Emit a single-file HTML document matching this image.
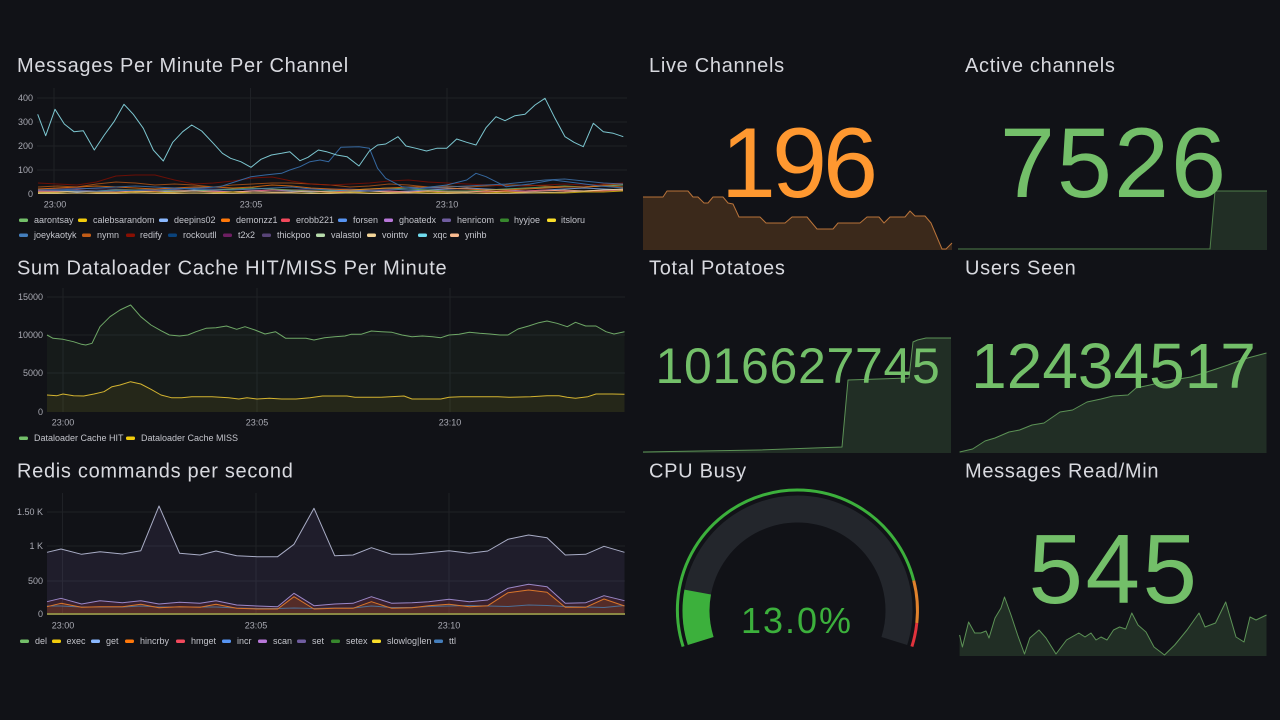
<!DOCTYPE html>
<html>
<head>
<meta charset="utf-8">
<style>
  html,body{margin:0;padding:0;background:#111217;}
  svg{display:block;}
  .t{font-family:"Liberation Sans",sans-serif;font-size:20px;fill:#d8d9df;letter-spacing:0.7px;}
  .ax{font-family:"Liberation Sans",sans-serif;font-size:9px;fill:#a9aab3;}
  .lg{font-family:"Liberation Sans",sans-serif;font-size:9px;fill:#c3c4cb;}
  .big{font-family:"Liberation Sans",sans-serif;}
  .g{stroke:#1f2126;stroke-width:1;fill:none;}
  .ln{fill:none;stroke-width:1;stroke-linejoin:round;}
</style>
</head>
<body>
<svg width="1280" height="720" viewBox="0 0 1280 720" xmlns="http://www.w3.org/2000/svg">
<rect x="0" y="0" width="1280" height="720" fill="#111217"/>

<!-- ============ PANEL 1: Messages Per Minute Per Channel ============ -->
<text class="t" x="17" y="72">Messages Per Minute Per Channel</text>
<g>
  <line class="g" x1="37" y1="98" x2="627" y2="98"/>
  <line class="g" x1="37" y1="122" x2="627" y2="122"/>
  <line class="g" x1="37" y1="146" x2="627" y2="146"/>
  <line class="g" x1="37" y1="170" x2="627" y2="170"/>
  <line class="g" x1="54" y1="88" x2="54" y2="194"/>
  <line class="g" x1="250.5" y1="88" x2="250.5" y2="194"/>
  <line class="g" x1="447" y1="88" x2="447" y2="194"/>
</g>
<g class="ax" text-anchor="end">
  <text x="33" y="101">400</text>
  <text x="33" y="125">300</text>
  <text x="33" y="149">200</text>
  <text x="33" y="173">100</text>
  <text x="33" y="197">0</text>
</g>
<g class="ax" text-anchor="middle">
  <text x="55" y="207.5">23:00</text>
  <text x="251" y="207.5">23:05</text>
  <text x="447" y="207.5">23:10</text>
</g>
<!-- low series -->
<g class="ln" stroke-opacity="0.75">
<polyline stroke="#584477" points="38,189 57.5,189 77,188 96.5,189 116,189 135.5,190 155,189 174.5,189 194,188 213.5,189 233,189 252.5,190 272,190 291.5,190 311,189 330.5,189 350,189 369.5,190 389,189 408.5,189 428,188 447.5,189 467,189 486.5,190 506,189 525.5,189 545,188 564.5,187 584,187 603.5,186 623,185"/>
<polyline stroke="#8AB8FF" points="38,191 57.5,191 77,192 96.5,191 116,190 135.5,191 155,192 174.5,191 194,190 213.5,191 233,192 252.5,191 272,190 291.5,191 311,192 330.5,191 350,190 369.5,191 389,192 408.5,191 428,190 447.5,189 467,188 486.5,189 506,190 525.5,191 545,190 564.5,189 584,188 603.5,189 623,190"/>
<polyline stroke="#F2495C" points="38,191 57.5,191 77,190 96.5,191 116,192 135.5,191 155,191 174.5,190 194,191 213.5,191 233,192 252.5,191 272,190 291.5,190 311,191 330.5,192 350,191 369.5,191 389,191 408.5,192 428,191 447.5,191 467,191 486.5,192 506,191 525.5,191 545,190 564.5,191 584,191 603.5,191 623,190"/>
<polyline stroke="#73BF69" points="38,193 57.5,192 77,191 96.5,191 116,190 135.5,190 155,190 174.5,191 194,191 213.5,190 233,189 252.5,188 272,189 291.5,190 311,191 330.5,191 350,190 369.5,189 389,188 408.5,189 428,190 447.5,191 467,191 486.5,190 506,189 525.5,188 545,187 564.5,186 584,187 603.5,186 623,185"/>
<polyline stroke="#F9BA8F" points="38,192 57.5,192 77,191 96.5,192 116,192 135.5,191 155,192 174.5,192 194,191 213.5,192 233,192 252.5,191 272,192 291.5,192 311,191 330.5,192 350,192 369.5,191 389,192 408.5,192 428,191 447.5,192 467,192 486.5,191 506,192 525.5,192 545,191 564.5,190 584,191 603.5,190 623,190"/>
<polyline stroke="#F2CC0C" points="38,193 57.5,193 77,193 96.5,193 116,193 135.5,192 155,192 174.5,193 194,193 213.5,193 233,192 252.5,193 272,193 291.5,193 311,193 330.5,193 350,192 369.5,193 389,193 408.5,193 428,192 447.5,193 467,193 486.5,193 506,192 525.5,193 545,193 564.5,193 584,192 603.5,192 623,191"/>
<polyline stroke="#F4D598" points="38,193.5 57.5,193.5 77,193 96.5,193.5 116,193.5 135.5,193 155,193.5 174.5,193.5 194,193 213.5,193.5 233,193.5 252.5,193 272,193 291.5,193 311,193.5 330.5,193.5 350,193 369.5,193.5 389,193.5 408.5,193 428,193.5 447.5,193.5 467,193 486.5,193.5 506,193.5 525.5,193 545,192.5 564.5,192 584,191 603.5,190 623,189"/>
<polyline stroke="#FF780A" points="38,189 57.5,188 77,187 96.5,186 116,187 135.5,188 155,189 174.5,188 194,187 213.5,187 233,188 252.5,187 272,185 291.5,186 311,188 330.5,189 350,190 369.5,189 389,188 408.5,187 428,187 447.5,188 467,189 486.5,190 506,190 525.5,189 545,188 564.5,187 584,187 603.5,186 623,187"/>
<polyline stroke="#C15C17" points="38,187 57.5,186 77,187 96.5,184 116,182 135.5,183 155,185 174.5,184 194,185 213.5,187 233,185 252.5,184 272,183 291.5,183 311,184 330.5,185 350,187 369.5,186 389,184 408.5,185 428,187 447.5,186 467,187 486.5,186 506,185 525.5,185 545,186 564.5,187 584,187 603.5,185 623,184"/>
<polyline stroke="#890F02" points="38,183 57.5,184 77,185 96.5,182 116,176 135.5,175 155,175 174.5,180 194,184 213.5,183 233,181 252.5,178 272,177 291.5,181 311,184 330.5,185 350,184 369.5,183 389,181 408.5,180 428,182 447.5,183 467,184 486.5,185 506,186 525.5,186 545,185 564.5,184 584,185 603.5,184 623,183"/>
<polyline stroke="#447EBC" points="38,190 57.5,190 77,189 96.5,188 116,187 135.5,186 155,187 174.5,188 194,189 213.5,190 233,190 252.5,189 272,188 291.5,187 311,189 330.5,190 350,191 369.5,191 389,190 408.5,189 428,188 447.5,187 467,186 486.5,185 506,184 525.5,182 545,180 564.5,179 584,181 603.5,183 623,184"/>
</g>
<g class="ln">
<!-- rockoutll -->
<polyline stroke="#3568a0" points="38,190 100,191 160,190 200,188 220,186.7 240.8,180 251,176.7 265,175 281.6,173.3 289.8,170 300,166.7 310,161.7 320,160 328.6,161.7 340.8,147.3 359,146.7 369.4,148.3 377.6,168.3 385.7,178.3 402,186.7 420,188.3 446.7,185 466.7,180 476,173.3 486,176.7 496,181.7 506,186.7 530,184 553,180 577,183 600,186 623,188"/>
<!-- xqc -->
<polyline stroke="#7cc6d0" points="37.7,114.3 45.7,135.7 55,109.3 64.3,124 74,131.7 83.3,130.7 94.3,150 104.3,135 114,121.7 124,104.3 133.3,114.3 143.3,128.3 153.3,150 163.3,161 172.7,142.3 182.7,131.7 191.7,125 201.7,131 213.3,143.3 222.4,153.3 230.6,158.3 240.8,161.7 251,167.3 261,159.3 271.4,155 281.6,153.3 289.8,151.7 300,160.7 308,157.3 318.4,150 326.5,151.7 336.7,155 347,156.7 359,166 369.4,151 377.6,145 385.7,144 398,136.7 406,146 416,148.3 426.5,151 436.7,148.3 446.7,148.3 456.7,139 466.7,142.3 476,145 486,127.7 496,116.7 505,120.7 515,115.7 525,114.3 535,105 545,98.3 555,118.3 565,136.7 574,142.3 583.3,146.7 593.3,123.3 603.3,131.7 613.3,133.3 623.3,136.7"/>
</g>
<!-- legend 1 -->
<g>
  <rect x="19" y="218.5" width="9" height="3.5" rx="1.5" fill="#73BF69"/><text class="lg" x="34" y="223.2">aarontsay</text>
  <rect x="78" y="218.5" width="9" height="3.5" rx="1.5" fill="#F2CC0C"/><text class="lg" x="93" y="223.2">calebsarandom</text>
  <rect x="159" y="218.5" width="9" height="3.5" rx="1.5" fill="#8AB8FF"/><text class="lg" x="174" y="223.2">deepins02</text>
  <rect x="221" y="218.5" width="9" height="3.5" rx="1.5" fill="#FF780A"/><text class="lg" x="236" y="223.2">demonzz1</text>
  <rect x="281" y="218.5" width="9" height="3.5" rx="1.5" fill="#F2495C"/><text class="lg" x="296" y="223.2">erobb221</text>
  <rect x="338" y="218.5" width="9" height="3.5" rx="1.5" fill="#5794F2"/><text class="lg" x="353" y="223.2">forsen</text>
  <rect x="384" y="218.5" width="9" height="3.5" rx="1.5" fill="#B877D9"/><text class="lg" x="399" y="223.2">ghoatedx</text>
  <rect x="442" y="218.5" width="9" height="3.5" rx="1.5" fill="#705DA0"/><text class="lg" x="457" y="223.2">henricom</text>
  <rect x="500" y="218.5" width="9" height="3.5" rx="1.5" fill="#37872D"/><text class="lg" x="514" y="223.2">hyyjoe</text>
  <rect x="547" y="218.5" width="9" height="3.5" rx="1.5" fill="#FADE2A"/><text class="lg" x="561" y="223.2">itsloru</text>

  <rect x="19" y="233.5" width="9" height="3.5" rx="1.5" fill="#447EBC"/><text class="lg" x="34" y="238.2">joeykaotyk</text>
  <rect x="82" y="233.5" width="9" height="3.5" rx="1.5" fill="#C15C17"/><text class="lg" x="97" y="238.2">nymn</text>
  <rect x="126" y="233.5" width="9" height="3.5" rx="1.5" fill="#890F02"/><text class="lg" x="140" y="238.2">redify</text>
  <rect x="168" y="233.5" width="9" height="3.5" rx="1.5" fill="#0A437C"/><text class="lg" x="183" y="238.2">rockoutll</text>
  <rect x="223" y="233.5" width="9" height="3.5" rx="1.5" fill="#6D1F62"/><text class="lg" x="238" y="238.2">t2x2</text>
  <rect x="262" y="233.5" width="9" height="3.5" rx="1.5" fill="#584477"/><text class="lg" x="277" y="238.2">thickpoo</text>
  <rect x="316" y="233.5" width="9" height="3.5" rx="1.5" fill="#B7DBAB"/><text class="lg" x="331" y="238.2">valastol</text>
  <rect x="367" y="233.5" width="9" height="3.5" rx="1.5" fill="#F4D598"/><text class="lg" x="382" y="238.2">vointtv</text>
  <rect x="418" y="233.5" width="9" height="3.5" rx="1.5" fill="#70DBED"/><text class="lg" x="433" y="238.2">xqc</text>
  <rect x="450" y="233.5" width="9" height="3.5" rx="1.5" fill="#F9BA8F"/><text class="lg" x="465" y="238.2">ynihb</text>
</g>

<!-- ============ PANEL 2: Dataloader ============ -->
<text class="t" x="17" y="274.5">Sum Dataloader Cache HIT/MISS Per Minute</text>
<g>
  <line class="g" x1="47" y1="297" x2="625" y2="297"/>
  <line class="g" x1="47" y1="335" x2="625" y2="335"/>
  <line class="g" x1="47" y1="373" x2="625" y2="373"/>
  <line class="g" x1="63" y1="288" x2="63" y2="412"/>
  <line class="g" x1="257" y1="288" x2="257" y2="412"/>
  <line class="g" x1="450" y1="288" x2="450" y2="412"/>
</g>
<g class="ax" text-anchor="end">
  <text x="43" y="300">15000</text>
  <text x="43" y="338">10000</text>
  <text x="43" y="376">5000</text>
  <text x="43" y="415">0</text>
</g>
<g class="ax" text-anchor="middle">
  <text x="63" y="425.5">23:00</text>
  <text x="257" y="425.5">23:05</text>
  <text x="450" y="425.5">23:10</text>
</g>
<polygon fill="#73BF69" fill-opacity="0.05" points="47,335 53,338.3 63,339.3 73.5,341.7 81.6,344.3 85.7,345 92,343.3 100,326.7 110,316.7 120,310 130.6,305 140.8,316.7 151,325 161,330.7 169.4,335 179.6,336 187.8,335 196,331.7 206,328.3 216,327.7 226.5,326 236.7,329.3 245,326.7 255,330 265,334 275.5,331.7 285.7,338.3 296,338.3 306,338.3 314,340 324.5,337.7 334.7,336.7 345,336 351,334.3 361,334.3 371.4,331 381.6,331.7 392,332.3 402,335 412,336.7 422.4,336 432.6,336.7 440.8,337.7 449,335 459,334.3 469.4,332.3 479.6,333.3 489.8,334 500,335 508,335 518,329 528.6,326 538.8,322.7 547,321 557,323.3 567.3,326.7 575.5,322.3 585.7,326 596,326 606,331.7 614,334 624.5,331.7 624.5,412 47,412"/>
<polygon fill="#F2CC0C" fill-opacity="0.07" points="47,395 57,395.7 63,394 73.5,395.7 83.7,396 94,394 104,391.7 112,386.7 120,385 130.6,381.7 140.8,384 151,389.3 161,395 171.4,397.7 181.6,397.7 191.8,396.7 212,396.7 228.6,397.7 238.8,399 247,397.7 257,399 269.4,398.3 281.6,399 296,399 310,397.7 322.4,396 347,396 355,397.3 379.6,397.3 404,396 412,399 440.8,399 449,397.3 461,396.7 481.6,396.7 498,396.7 510,397.3 530.6,396.7 547,395.7 559,395.7 567,397.3 575.5,398.3 587.8,396.7 596,394 612,394 624.5,394.3 624.5,412 47,412"/>
<polyline class="ln" stroke="#6fa867" points="47,335 53,338.3 63,339.3 73.5,341.7 81.6,344.3 85.7,345 92,343.3 100,326.7 110,316.7 120,310 130.6,305 140.8,316.7 151,325 161,330.7 169.4,335 179.6,336 187.8,335 196,331.7 206,328.3 216,327.7 226.5,326 236.7,329.3 245,326.7 255,330 265,334 275.5,331.7 285.7,338.3 296,338.3 306,338.3 314,340 324.5,337.7 334.7,336.7 345,336 351,334.3 361,334.3 371.4,331 381.6,331.7 392,332.3 402,335 412,336.7 422.4,336 432.6,336.7 440.8,337.7 449,335 459,334.3 469.4,332.3 479.6,333.3 489.8,334 500,335 508,335 518,329 528.6,326 538.8,322.7 547,321 557,323.3 567.3,326.7 575.5,322.3 585.7,326 596,326 606,331.7 614,334 624.5,331.7"/>
<polyline class="ln" stroke="#d4b430" points="47,395 57,395.7 63,394 73.5,395.7 83.7,396 94,394 104,391.7 112,386.7 120,385 130.6,381.7 140.8,384 151,389.3 161,395 171.4,397.7 181.6,397.7 191.8,396.7 212,396.7 228.6,397.7 238.8,399 247,397.7 257,399 269.4,398.3 281.6,399 296,399 310,397.7 322.4,396 347,396 355,397.3 379.6,397.3 404,396 412,399 440.8,399 449,397.3 461,396.7 481.6,396.7 498,396.7 510,397.3 530.6,396.7 547,395.7 559,395.7 567,397.3 575.5,398.3 587.8,396.7 596,394 612,394 624.5,394.3"/>
<g>
  <rect x="19" y="436.5" width="9" height="3.5" rx="1.5" fill="#73BF69"/><text class="lg" x="34" y="441.2">Dataloader Cache HIT</text>
  <rect x="126" y="436.5" width="9" height="3.5" rx="1.5" fill="#F2CC0C"/><text class="lg" x="141" y="441.2">Dataloader Cache MISS</text>
</g>

<!-- ============ PANEL 3: Redis ============ -->
<text class="t" x="17" y="477.5">Redis commands per second</text>
<g>
  <line class="g" x1="47" y1="512" x2="625" y2="512"/>
  <line class="g" x1="47" y1="546" x2="625" y2="546"/>
  <line class="g" x1="47" y1="581" x2="625" y2="581"/>
  <line class="g" x1="62.5" y1="493" x2="62.5" y2="614"/>
  <line class="g" x1="256" y1="493" x2="256" y2="614"/>
  <line class="g" x1="449" y1="493" x2="449" y2="614"/>
</g>
<g class="ax" text-anchor="end">
  <text x="43" y="515">1.50 K</text>
  <text x="43" y="549">1 K</text>
  <text x="43" y="584">500</text>
  <text x="43" y="617">0</text>
</g>
<g class="ax" text-anchor="middle">
  <text x="63" y="628.5">23:00</text>
  <text x="256" y="628.5">23:05</text>
  <text x="449" y="628.5">23:10</text>
</g>
<!-- fills -->
<polygon fill="#705DA0" fill-opacity="0.15" points="47,552.3 61,549 81.6,554.3 100,551.7 122.4,554 140.8,550.7 159,506 179.6,553.3 200,555 216,551 236.7,555.7 257,556.7 277.6,556.7 294,544.3 314,508.3 334.7,555.7 353,555 371.4,547.7 391.8,554.3 412,554.3 428.6,552.7 449,550.7 469.4,553.3 487.8,551 508,539.3 528.6,535 547,537.7 565.3,555 585.7,554.3 604,546.3 624.5,552.3 624.5,614 47,614"/>
<polygon fill="#c0303c" fill-opacity="0.16" points="47,601.7 61,598.3 81.6,604 100,600.7 122.4,602.7 140.8,600.7 159,604 179.6,602.3 200,603.3 216,600.7 236.7,605 257,606 277.6,606.7 294,593.3 314,605.7 334.7,604 353,603.3 371.4,596.7 391.8,603.3 412,602.7 428.6,601.7 449,599.3 469.4,601.7 487.8,600 508,588.3 528.6,584.3 547,586.7 565.3,603.3 585.7,602.7 604,595.7 624.5,600.7 624.5,614 47,614"/>
<polygon fill="#FF780A" fill-opacity="0.14" points="47,606.7 61,603.3 81.6,607.3 100,606.7 122.4,606.7 140.8,604.3 159,607.7 179.6,606.7 200,607.3 216,604.3 236.7,608.3 257,609 277.6,609 294,596.7 314,609 334.7,608.3 353,608.3 371.4,601.7 391.8,608.3 412,607.7 428.6,605.7 449,604.3 469.4,606.7 487.8,605.7 508,592.7 528.6,590 547,592.3 565.3,607.3 585.7,607.3 604,599 624.5,606 624.5,614 47,614"/>
<g class="ln">
<polyline stroke="#4d6f96" points="47,606 61,606 81.6,607 100,607 122.4,607 140.8,606 159,607 179.6,607 200,607 216,607 236.7,608 257,608.5 277.6,608.5 294,608 314,608.5 334.7,608 353,608 371.4,606 391.8,607.5 412,607.5 428.6,606.5 449,606 469.4,605.5 487.8,606 508,606.5 528.6,605 547,605.5 565.3,606.5 585.7,607 604,607.5 624.5,605.5"/>
<polyline stroke="#d9762a" points="47,606.7 61,603.3 81.6,607.3 100,606.7 122.4,606.7 140.8,604.3 159,607.7 179.6,606.7 200,607.3 216,604.3 236.7,608.3 257,609 277.6,609 294,596.7 314,609 334.7,608.3 353,608.3 371.4,601.7 391.8,608.3 412,607.7 428.6,605.7 449,604.3 469.4,606.7 487.8,605.7 508,592.7 528.6,590 547,592.3 565.3,607.3 585.7,607.3 604,599 624.5,606"/>
<polyline stroke="#9a88c8" points="47,601.7 61,598.3 81.6,604 100,600.7 122.4,602.7 140.8,600.7 159,604 179.6,602.3 200,603.3 216,600.7 236.7,605 257,606 277.6,606.7 294,593.3 314,605.7 334.7,604 353,603.3 371.4,596.7 391.8,603.3 412,602.7 428.6,601.7 449,599.3 469.4,601.7 487.8,600 508,588.3 528.6,584.3 547,586.7 565.3,603.3 585.7,602.7 604,595.7 624.5,600.7"/>
<polyline stroke="#a9adc6" points="47,552.3 61,549 81.6,554.3 100,551.7 122.4,554 140.8,550.7 159,506 179.6,553.3 200,555 216,551 236.7,555.7 257,556.7 277.6,556.7 294,544.3 314,508.3 334.7,555.7 353,555 371.4,547.7 391.8,554.3 412,554.3 428.6,552.7 449,550.7 469.4,553.3 487.8,551 508,539.3 528.6,535 547,537.7 565.3,555 585.7,554.3 604,546.3 624.5,552.3"/>
</g>
<line x1="47" y1="614" x2="625" y2="614" stroke="#8a8844" stroke-width="2"/>
<g>
  <rect x="20" y="639.5" width="9" height="3.5" rx="1.5" fill="#73BF69"/><text class="lg" x="35" y="644.2">del</text>
  <rect x="52" y="639.5" width="9" height="3.5" rx="1.5" fill="#F2CC0C"/><text class="lg" x="66.5" y="644.2">exec</text>
  <rect x="91" y="639.5" width="9" height="3.5" rx="1.5" fill="#8AB8FF"/><text class="lg" x="106" y="644.2">get</text>
  <rect x="125" y="639.5" width="9" height="3.5" rx="1.5" fill="#FF780A"/><text class="lg" x="140" y="644.2">hincrby</text>
  <rect x="176" y="639.5" width="9" height="3.5" rx="1.5" fill="#F2495C"/><text class="lg" x="191" y="644.2">hmget</text>
  <rect x="222" y="639.5" width="9" height="3.5" rx="1.5" fill="#5794F2"/><text class="lg" x="237" y="644.2">incr</text>
  <rect x="258" y="639.5" width="9" height="3.5" rx="1.5" fill="#B877D9"/><text class="lg" x="273" y="644.2">scan</text>
  <rect x="297" y="639.5" width="9" height="3.5" rx="1.5" fill="#705DA0"/><text class="lg" x="312" y="644.2">set</text>
  <rect x="331" y="639.5" width="9" height="3.5" rx="1.5" fill="#37872D"/><text class="lg" x="346" y="644.2">setex</text>
  <rect x="372" y="639.5" width="9" height="3.5" rx="1.5" fill="#FADE2A"/><text class="lg" x="387" y="644.2">slowlog|len</text>
  <rect x="434" y="639.5" width="9" height="3.5" rx="1.5" fill="#447EBC"/><text class="lg" x="449" y="644.2">ttl</text>
</g>

<!-- ============ STAT: Live Channels ============ -->
<text class="t" x="649" y="72">Live Channels</text>
<polygon fill="#FF9830" fill-opacity="0.18" points="643,197 663,197 667,191 688,191 693,197 698,197 704,203 708,203 713,197 723,197 728,203 733,204 739,217 760,217 766,223 785,223 792,217 807,217 817,229 833,229 838,223 860,223 867,217 879,217 884,223 890,217 905,217 910,211 915,216 925,216 931,223 942,249 946,249 952,243 952,250 643,250"/>
<polyline class="ln" stroke="#b8733a" points="643,197 663,197 667,191 688,191 693,197 698,197 704,203 708,203 713,197 723,197 728,203 733,204 739,217 760,217 766,223 785,223 792,217 807,217 817,229 833,229 838,223 860,223 867,217 879,217 884,223 890,217 905,217 910,211 915,216 925,216 931,223 942,249 946,249 952,243"/>
<text class="big" x="797.5" y="197" text-anchor="middle" font-size="99" fill="#FF9830" letter-spacing="-4">196</text>

<!-- ============ STAT: Active channels ============ -->
<text class="t" x="965" y="72">Active channels</text>
<polygon fill="#73BF69" fill-opacity="0.17" points="1210,249 1215,191 1267,191 1267,250 1210,250"/>
<polyline class="ln" stroke="#4f7f4a" points="958,249 1210,249 1215,191 1267,191"/>
<text class="big" x="1114" y="197" text-anchor="middle" font-size="99" fill="#73BF69" letter-spacing="2">7526</text>

<!-- ============ STAT: Total Potatoes ============ -->
<text class="t" x="649" y="274.5">Total Potatoes</text>
<polygon fill="#73BF69" fill-opacity="0.17" points="643,452 700,451 760,450 800,448.5 842,447 848,380 909,378 913,342 917.5,340 926,338 951,338 951,453 643,453"/>
<polyline class="ln" stroke="#5c9256" points="643,452 700,451 760,450 800,448.5 842,447 848,380 909,378 913,342 917.5,340 926,338 951,338"/>
<text class="big" x="798" y="383" text-anchor="middle" font-size="50" fill="#73BF69" letter-spacing="0.7">1016627745</text>

<!-- ============ STAT: Users Seen ============ -->
<text class="t" x="965" y="274.5">Users Seen</text>
<polygon fill="#73BF69" fill-opacity="0.17" points="959.6,452 972.6,449 985,441 995,438 1009,432 1019.6,430 1032,425 1044,423 1060,412 1072.6,410 1087,402 1101,399 1113,396 1128,395 1136,388 1150,385 1166.5,381 1191,377 1207,372 1228,365 1244,359 1266.5,353 1266.5,453 959.6,453"/>
<polyline class="ln" stroke="#5c9256" points="959.6,452 972.6,449 985,441 995,438 1009,432 1019.6,430 1032,425 1044,423 1060,412 1072.6,410 1087,402 1101,399 1113,396 1128,395 1136,388 1150,385 1166.5,381 1191,377 1207,372 1228,365 1244,359 1266.5,353"/>
<text class="big" x="1113.5" y="388" text-anchor="middle" font-size="64" fill="#73BF69">12434517</text>

<!-- ============ GAUGE: CPU Busy ============ -->
<text class="t" x="649" y="477.5">CPU Busy</text>
<path d="M 700.7 641.0 A 101.5 101.5 0 1 1 894.3 641.0" fill="none" stroke="#23262c" stroke-width="27"/>
<path d="M 700.7 641.0 A 101.5 101.5 0 0 1 697.7 592.1" fill="none" stroke="#3cb03c" stroke-width="27"/>
<path d="M 683.1 646.6 A 120 120 0 1 1 913.7 580.5" fill="none" stroke="#3cb03c" stroke-width="3"/>
<path d="M 913.7 580.5 A 120 120 0 0 1 916.8 623.0" fill="none" stroke="#e0822c" stroke-width="3"/>
<path d="M 916.8 623.0 A 120 120 0 0 1 911.9 646.6" fill="none" stroke="#e0323c" stroke-width="3"/>
<text class="big" x="797" y="633" text-anchor="middle" font-size="36" fill="#3cb03c" letter-spacing="2">13.0%</text>

<!-- ============ STAT: Messages Read/Min ============ -->
<text class="t" x="965" y="477.5">Messages Read/Min</text>
<polygon fill="#73BF69" fill-opacity="0.17" points="959.6,635 962.4,647 968.6,622 974.7,633 980.8,633 986,631 989,638 995,618 1001,608 1004.5,597 1011,615 1017.6,635 1024.5,654 1029.8,638 1039,630 1046,638 1056,654 1066.5,640 1078.8,633 1085,637 1091,633 1096,640 1101,637 1107,640 1113.5,630 1119.6,627 1125.7,629 1131.8,613 1138,625 1146,632 1154,647 1164.5,655 1174.7,645 1187,630 1199,613 1205,627 1215.5,623 1225.7,602 1236,637 1244,642 1250,617 1256,620 1266.5,615 1266.5,656 959.6,656"/>
<polyline class="ln" stroke="#5c9256" points="959.6,635 962.4,647 968.6,622 974.7,633 980.8,633 986,631 989,638 995,618 1001,608 1004.5,597 1011,615 1017.6,635 1024.5,654 1029.8,638 1039,630 1046,638 1056,654 1066.5,640 1078.8,633 1085,637 1091,633 1096,640 1101,637 1107,640 1113.5,630 1119.6,627 1125.7,629 1131.8,613 1138,625 1146,632 1154,647 1164.5,655 1174.7,645 1187,630 1199,613 1205,627 1215.5,623 1225.7,602 1236,637 1244,642 1250,617 1256,620 1266.5,615"/>
<text class="big" x="1114" y="603" text-anchor="middle" font-size="98" fill="#73BF69" letter-spacing="2.5">545</text>

</svg>
</body>
</html>
